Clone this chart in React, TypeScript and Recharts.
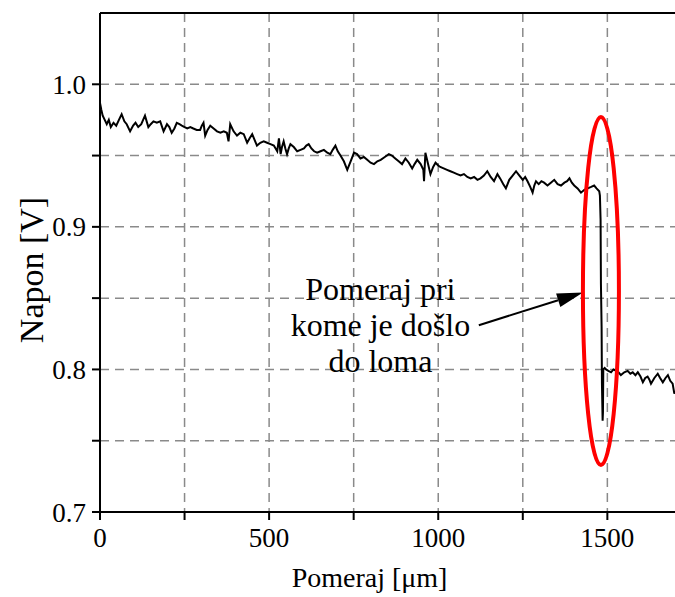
import { LineChart, Line, XAxis, YAxis, CartesianGrid, ReferenceLine, ReferenceDot, Label } from 'recharts';

const pomeraj = [
  0, 4, 8, 14, 20, 26, 32, 40, 48, 56, 64, 72, 79, 89, 98, 105, 113, 122, 133, 143,
  150, 158, 168, 178, 188, 198, 205, 212, 220, 227, 235, 242, 250, 258, 267, 276, 286, 296, 301, 306,
  311, 318, 326, 336, 346, 356, 366, 375, 380, 385, 395, 405, 415, 425, 435, 442, 450, 457, 464, 474,
  484, 494, 504, 514, 524, 529, 534, 538, 543, 548, 553, 558, 563, 573, 583, 593, 603, 610, 617, 625,
  633, 642, 652, 662, 672, 681, 688, 696, 703, 711, 721, 731, 741, 751, 760, 770, 780, 790, 800, 810,
  820, 830, 842, 854, 863, 873, 883, 893, 903, 913, 923, 930, 938, 948, 956, 958, 962, 968, 977, 985,
  992, 1000, 1006, 1016, 1026, 1036, 1046, 1056, 1066, 1076, 1086, 1096, 1106, 1116, 1125, 1135, 1145, 1155, 1165, 1175,
  1183, 1192, 1200, 1210, 1220, 1230, 1240, 1250, 1257, 1264, 1272, 1279, 1284, 1289, 1297, 1305, 1313, 1323, 1333, 1343,
  1353, 1363, 1373, 1381, 1388, 1395, 1402, 1412, 1422, 1432, 1442, 1452, 1461, 1468, 1476, 1478, 1480, 1481, 1483, 1484,
  1486, 1487, 1488, 1492, 1496, 1503, 1511, 1518, 1526, 1533, 1540, 1550, 1560, 1568, 1575, 1583, 1590, 1598, 1605, 1612,
  1619, 1624, 1629, 1639, 1649, 1656, 1664, 1672, 1679, 1686, 1693, 1698, 1700,
];

const napon = [
  0.987, 0.982, 0.978, 0.975, 0.972, 0.975, 0.970, 0.973, 0.971, 0.975, 0.979, 0.974, 0.972, 0.967, 0.971, 0.973, 0.970, 0.972, 0.978, 0.970,
  0.972, 0.974, 0.973, 0.974, 0.967, 0.972, 0.970, 0.966, 0.969, 0.973, 0.972, 0.971, 0.970, 0.969, 0.970, 0.969, 0.968, 0.968, 0.971, 0.973,
  0.964, 0.968, 0.971, 0.969, 0.967, 0.966, 0.967, 0.966, 0.960, 0.972, 0.967, 0.964, 0.966, 0.965, 0.959, 0.962, 0.965, 0.961, 0.957, 0.959,
  0.960, 0.959, 0.958, 0.957, 0.953, 0.962, 0.951, 0.956, 0.960, 0.955, 0.951, 0.955, 0.958, 0.956, 0.953, 0.954, 0.955, 0.957, 0.958, 0.955,
  0.953, 0.952, 0.953, 0.954, 0.952, 0.951, 0.954, 0.957, 0.953, 0.950, 0.946, 0.940, 0.946, 0.952, 0.951, 0.948, 0.949, 0.947, 0.945, 0.944,
  0.946, 0.947, 0.949, 0.951, 0.950, 0.948, 0.946, 0.944, 0.948, 0.945, 0.941, 0.944, 0.947, 0.944, 0.940, 0.932, 0.952, 0.946, 0.937, 0.942,
  0.945, 0.943, 0.942, 0.941, 0.940, 0.939, 0.938, 0.937, 0.936, 0.937, 0.935, 0.934, 0.935, 0.933, 0.934, 0.936, 0.939, 0.935, 0.932, 0.937,
  0.934, 0.930, 0.927, 0.933, 0.936, 0.939, 0.936, 0.933, 0.935, 0.932, 0.928, 0.924, 0.929, 0.932, 0.930, 0.932, 0.931, 0.929, 0.931, 0.933,
  0.930, 0.929, 0.931, 0.932, 0.934, 0.931, 0.929, 0.927, 0.924, 0.926, 0.927, 0.928, 0.929, 0.927, 0.925, 0.922, 0.905, 0.860, 0.830, 0.790,
  0.764, 0.770, 0.800, 0.801, 0.800, 0.799, 0.798, 0.800, 0.799, 0.798, 0.796, 0.798, 0.799, 0.797, 0.798, 0.796, 0.798, 0.795, 0.791, 0.794,
  0.795, 0.793, 0.790, 0.794, 0.797, 0.794, 0.791, 0.794, 0.796, 0.792, 0.790, 0.783, 0.785,
];

const xTicks = [0, 250, 500, 750, 1000, 1250, 1500];
const yTicks = [0.7, 0.75, 0.8, 0.85, 0.9, 0.95, 1.0];

// annotation: text lines, arrow (from -> to) and the ellipse around the break
const noteLines = ['Pomeraj pri', 'kome je došlo', 'do loma'];
const noteAnchor = { x: 829, y: 0.831 };
const arrowFrom = { x: 1120, y: 0.831 };
const arrowTo = { x: 1428, y: 0.854 };
const breakPoint = { x: 1481, y: 0.855 };

const data = pomeraj.map((p, i) => ({ pomeraj: p, napon: napon[i] }));

const FONT = "'Liberation Serif', Tinos, 'Times New Roman', serif";

export default function App() {
  return (
    <div style={{ position: 'absolute', left: 0, top: 0, background: '#fff', fontFamily: FONT }}>
      <LineChart width={675} height={597} data={data} margin={{ top: 13, right: 0, left: 0, bottom: 0 }}>
        <CartesianGrid
          stroke="#8a8a8a"
          strokeWidth={1.5}
          strokeDasharray="9 6"
          horizontalValues={[0.75, 0.8, 0.85, 0.9, 0.95, 1.0]}
          verticalValues={[250, 500, 750, 1000, 1250, 1500]}
        />
        <XAxis
          dataKey="pomeraj"
          type="number"
          domain={[0, 1700]}
          ticks={xTicks}
          allowDataOverflow
          height={85}
          stroke="#000"
          strokeWidth={2}
          tickSize={8}
          tickMargin={8}
          tickFormatter={(v: number) => (v % 500 === 0 ? String(v) : '')}
          tick={{ fill: '#000', fontSize: 27, fontFamily: FONT }}
        >
          <Label
            value="Pomeraj [μm]"
            position="insideBottom"
            offset={10}
            dx={-18}
            style={{ fill: '#000', fontSize: 28, fontFamily: FONT }}
          />
        </XAxis>
        <YAxis
          type="number"
          domain={[0.7, 1.05]}
          ticks={yTicks}
          allowDataOverflow
          width={100}
          stroke="#000"
          strokeWidth={2}
          tickSize={8}
          tickMargin={6}
          tickFormatter={(v: number) => (Math.round(v * 100) % 10 === 0 ? v.toFixed(1) : '')}
          tick={{ fill: '#000', fontSize: 27, fontFamily: FONT }}
        >
          <Label
            content={() => (
              <text
                x={31}
                y={270}
                transform="rotate(-90, 31, 270)"
                textAnchor="middle"
                dominantBaseline="central"
                style={{ fontFamily: FONT, fontSize: 34, fill: '#000' }}
              >
                Napon [V]
              </text>
            )}
          />
        </YAxis>
        <ReferenceLine y={1.05} stroke="#000" strokeWidth={2} />
        <Line
          type="linear"
          dataKey="napon"
          stroke="#000"
          strokeWidth={2}
          dot={false}
          isAnimationActive={false}
        />
        <ReferenceLine
          segment={[arrowFrom, arrowTo]}
          stroke="#000"
          shape={(p: any) => {
            const { x1, y1, x2, y2 } = p;
            const ang = Math.atan2(y2 - y1, x2 - x1);
            const len = 26;
            const half = 7;
            const bx = x2 - len * Math.cos(ang);
            const by = y2 - len * Math.sin(ang);
            const nx = -Math.sin(ang) * half;
            const ny = Math.cos(ang) * half;
            return (
              <g>
                <line x1={x1} y1={y1} x2={bx} y2={by} stroke="#000" strokeWidth={2} />
                <polygon points={`${x2},${y2} ${bx + nx},${by + ny} ${bx - nx},${by - ny}`} fill="#000" />
              </g>
            );
          }}
        />
        <ReferenceDot
          x={breakPoint.x}
          y={breakPoint.y}
          shape={(p: any) => (
            <ellipse cx={p.cx} cy={p.cy} rx={18} ry={174} fill="none" stroke="#ff0000" strokeWidth={4} />
          )}
        />
        <ReferenceDot
          x={noteAnchor.x}
          y={noteAnchor.y}
          shape={(p: any) => (
            <g>
              {noteLines.map((t, i) => (
                <text
                  key={t}
                  x={p.cx}
                  y={p.cy + (i - 1) * 36}
                  textAnchor="middle"
                  dominantBaseline="central"
                  style={{ fontFamily: FONT, fontSize: 32, fill: '#000' }}
                >
                  {t}
                </text>
              ))}
            </g>
          )}
        />
      </LineChart>
    </div>
  );
}
